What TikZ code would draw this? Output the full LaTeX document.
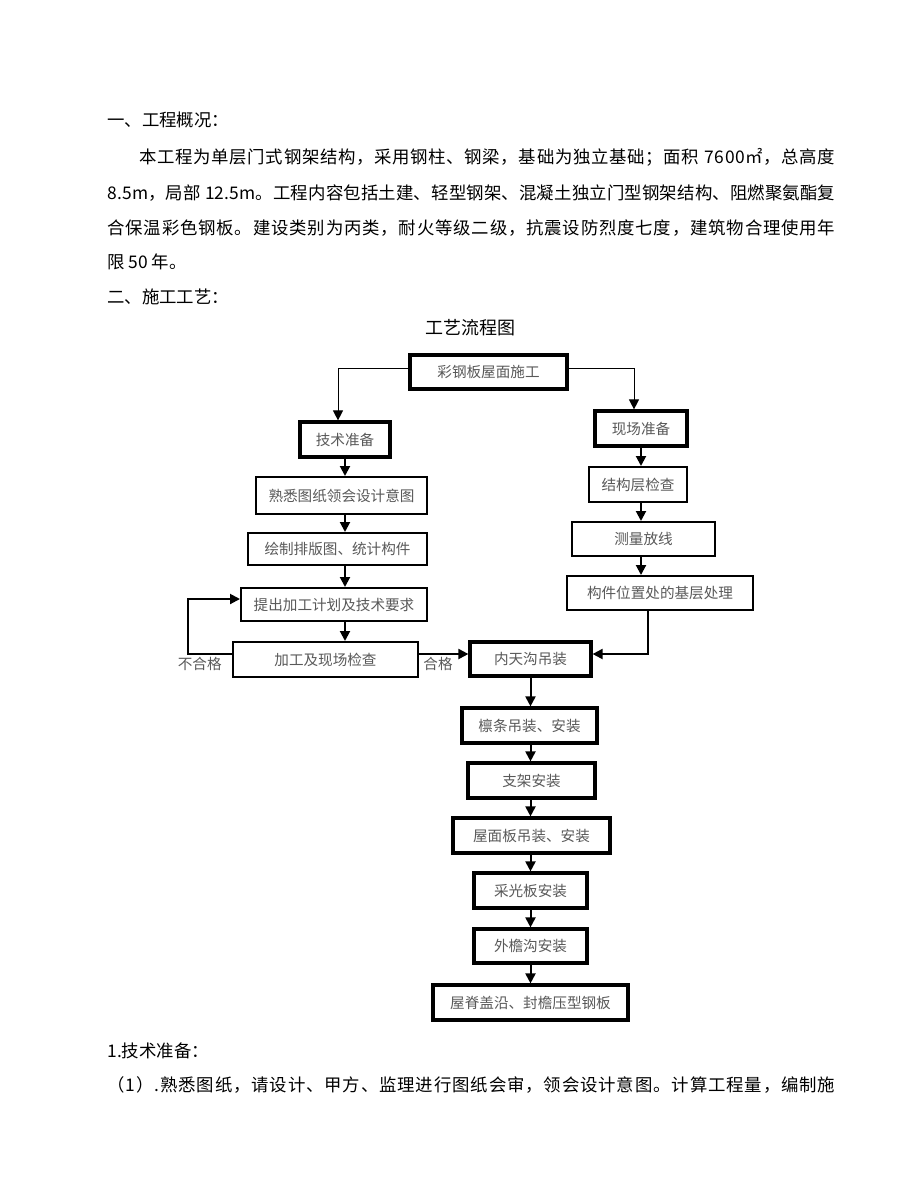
\documentclass[tikz,border=0pt]{standalone}
\usepackage{fontspec}
\setmainfont{Noto Sans CJK SC}
\usetikzlibrary{arrows.meta}
% one justified line: spread the characters over the given width
\ExplSyntaxOn
\NewDocumentCommand\spreadline{mm}{\hbox~to~#1{\tl_map_inline:nn{#2}{##1\hskip~0pt~plus~1fil}\unskip}}
\ExplSyntaxOff

\begin{document}
\begin{tikzpicture}[x=0.5pt,y=-0.5pt]
\tikzstyle{box}=[rectangle, draw=black, line width=1pt, inner sep=0pt, text=black!65, font=\fontsize{7.3pt}{9pt}\selectfont]
\tikzstyle{thickbox}=[box, line width=1.6pt]
\tikzstyle{connect}=[-{Triangle[length=5pt,width=5pt]}, line width=1pt]
\tikzstyle{thinconnect}=[connect, line width=0.5pt]
\tikzstyle{para}=[anchor=west, inner sep=0pt, font=\fontsize{8.7pt}{10pt}\selectfont]
\tikzstyle{lbl}=[inner sep=0pt, text=black!65, font=\fontsize{7.3pt}{9pt}\selectfont]
  \path[fill=white] (0,0) rectangle (920,1191);
  % text above the chart
  \node[para] (h1) at (107,120) {一、工程概况：};
  \node[para] (l1) at (139,157) {\spreadline{348pt}{本工程为单层门式钢架结构，采用钢柱、钢梁，基础为独立基础；面积\ 7600㎡，总高度}};
  \node[para] (l2) at (107,193) {\spreadline{364pt}{8.5m，局部\ 12.5m。工程内容包括土建、轻型钢架、混凝土独立门型钢架结构、阻燃聚氨酯复}};
  \node[para] (l3) at (107,228) {\spreadline{364pt}{合保温彩色钢板。建设类别为丙类，耐火等级二级，抗震设防烈度七度，建筑物合理使用年}};
  \node[para] (l4) at (107,262) {限 50 年。};
  \node[para] (h2) at (107,297) {二、施工工艺：};
  \node[para, anchor=center, font=\fontsize{9pt}{10pt}\selectfont] (title) at (470,328) {工艺流程图};
  % chart
  \node[thickbox, minimum width=78.5pt, minimum height=17pt] (cai) at (488.5,372) {彩钢板屋面施工};
  \node[thickbox, minimum width=45pt, minimum height=17.5pt] (jishu) at (345,439.5) {技术准备};
  \node[thickbox, minimum width=46pt, minimum height=17.5pt] (xianchang) at (641,428.5) {现场准备};
  \node[box, minimum width=85.5pt, minimum height=18.5pt] (shuxi) at (341.5,495.5) {熟悉图纸领会设计意图};
  \node[box, minimum width=49pt, minimum height=17.5pt] (jiegou) at (638,484.5) {结构层检查};
  \node[box, minimum width=89.5pt, minimum height=16pt] (huizhi) at (337.5,549) {绘制排版图、统计构件};
  \node[box, minimum width=71.5pt, minimum height=17pt] (celiang) at (643.5,539) {测量放线};
  \node[box, minimum width=93pt, minimum height=16.5pt] (tichu) at (334,604.5) {提出加工计划及技术要求};
  \node[box, minimum width=93pt, minimum height=17pt] (goujian) at (660,593) {构件位置处的基层处理};
  \node[box, minimum width=92.5pt, minimum height=17.5pt] (jiagong) at (325.5,659.5) {加工及现场检查};
  \node[thickbox, minimum width=60.5pt, minimum height=17pt] (neitian) at (530.5,659) {内天沟吊装};
  \node[thickbox, minimum width=67.5pt, minimum height=17.5pt] (lintiao) at (529.5,725.5) {檩条吊装、安装};
  \node[thickbox, minimum width=63.5pt, minimum height=17.5pt] (zhijia) at (531.5,780.5) {支架安装};
  \node[thickbox, minimum width=78.5pt, minimum height=17.5pt] (wumian) at (531.5,835.5) {屋面板吊装、安装};
  \node[thickbox, minimum width=56.5pt, minimum height=17.5pt] (caiguang) at (530.5,890.5) {采光板安装};
  \node[thickbox, minimum width=56.5pt, minimum height=17pt] (waiyan) at (530.5,946) {外檐沟安装};
  \node[thickbox, minimum width=97.5pt, minimum height=17.5pt] (wuji) at (530.5,1002.5) {屋脊盖沿、封檐压型钢板};
  \node[lbl, anchor=east] (buhege) at (222,664) {不合格};
  \node[lbl, anchor=west] (hege) at (423,664) {合格};
  \draw[thinconnect] ([yshift=2pt]cai.west) -| ([xshift=-3.5pt]jishu.north);
  \draw[thinconnect] ([yshift=2pt]cai.east) -| ([xshift=-3.5pt]xianchang.north);
  \path (jishu.south) edge [connect] (jishu.south |- shuxi.north)
        (shuxi.south -| jishu) edge [connect] (huizhi.north -| jishu)
        (huizhi.south -| jishu) edge [connect] (tichu.north -| jishu)
        (tichu.south -| jishu) edge [connect] (jiagong.north -| jishu);
  \path (xianchang.south) edge [connect] (jiegou.north -| xianchang)
        (jiegou.south -| xianchang) edge [connect] (celiang.north -| xianchang)
        (celiang.south -| xianchang) edge [connect] (goujian.north -| xianchang);
  \draw[connect] ([xshift=-6pt]goujian.south) |- ([yshift=2.5pt]neitian.east);
  \draw[connect] ([yshift=2.75pt]jiagong.east) -- ([yshift=2.75pt]jiagong.east -| neitian.west);
  \draw[connect] ([yshift=2.75pt]jiagong.west) -- ++(-22pt,0) |- ([yshift=2.75pt]tichu.west);
  \path (neitian.south) edge [connect] (lintiao.north -| neitian)
        (lintiao.south -| neitian) edge [connect] (zhijia.north -| neitian)
        (zhijia.south -| neitian) edge [connect] (wumian.north -| neitian)
        (wumian.south -| neitian) edge [connect] (caiguang.north -| neitian)
        (caiguang.south -| neitian) edge [connect] (waiyan.north -| neitian)
        (waiyan.south -| neitian) edge [connect] (wuji.north -| neitian);
  % text below the chart
  \node[para] (h3) at (107,1051) {1.技术准备：};
  \node[para] (l5) at (107,1085) {\spreadline{364pt}{（1）.熟悉图纸，请设计、甲方、监理进行图纸会审，领会设计意图。计算工程量，编制施}};
\end{tikzpicture}
\end{document}
